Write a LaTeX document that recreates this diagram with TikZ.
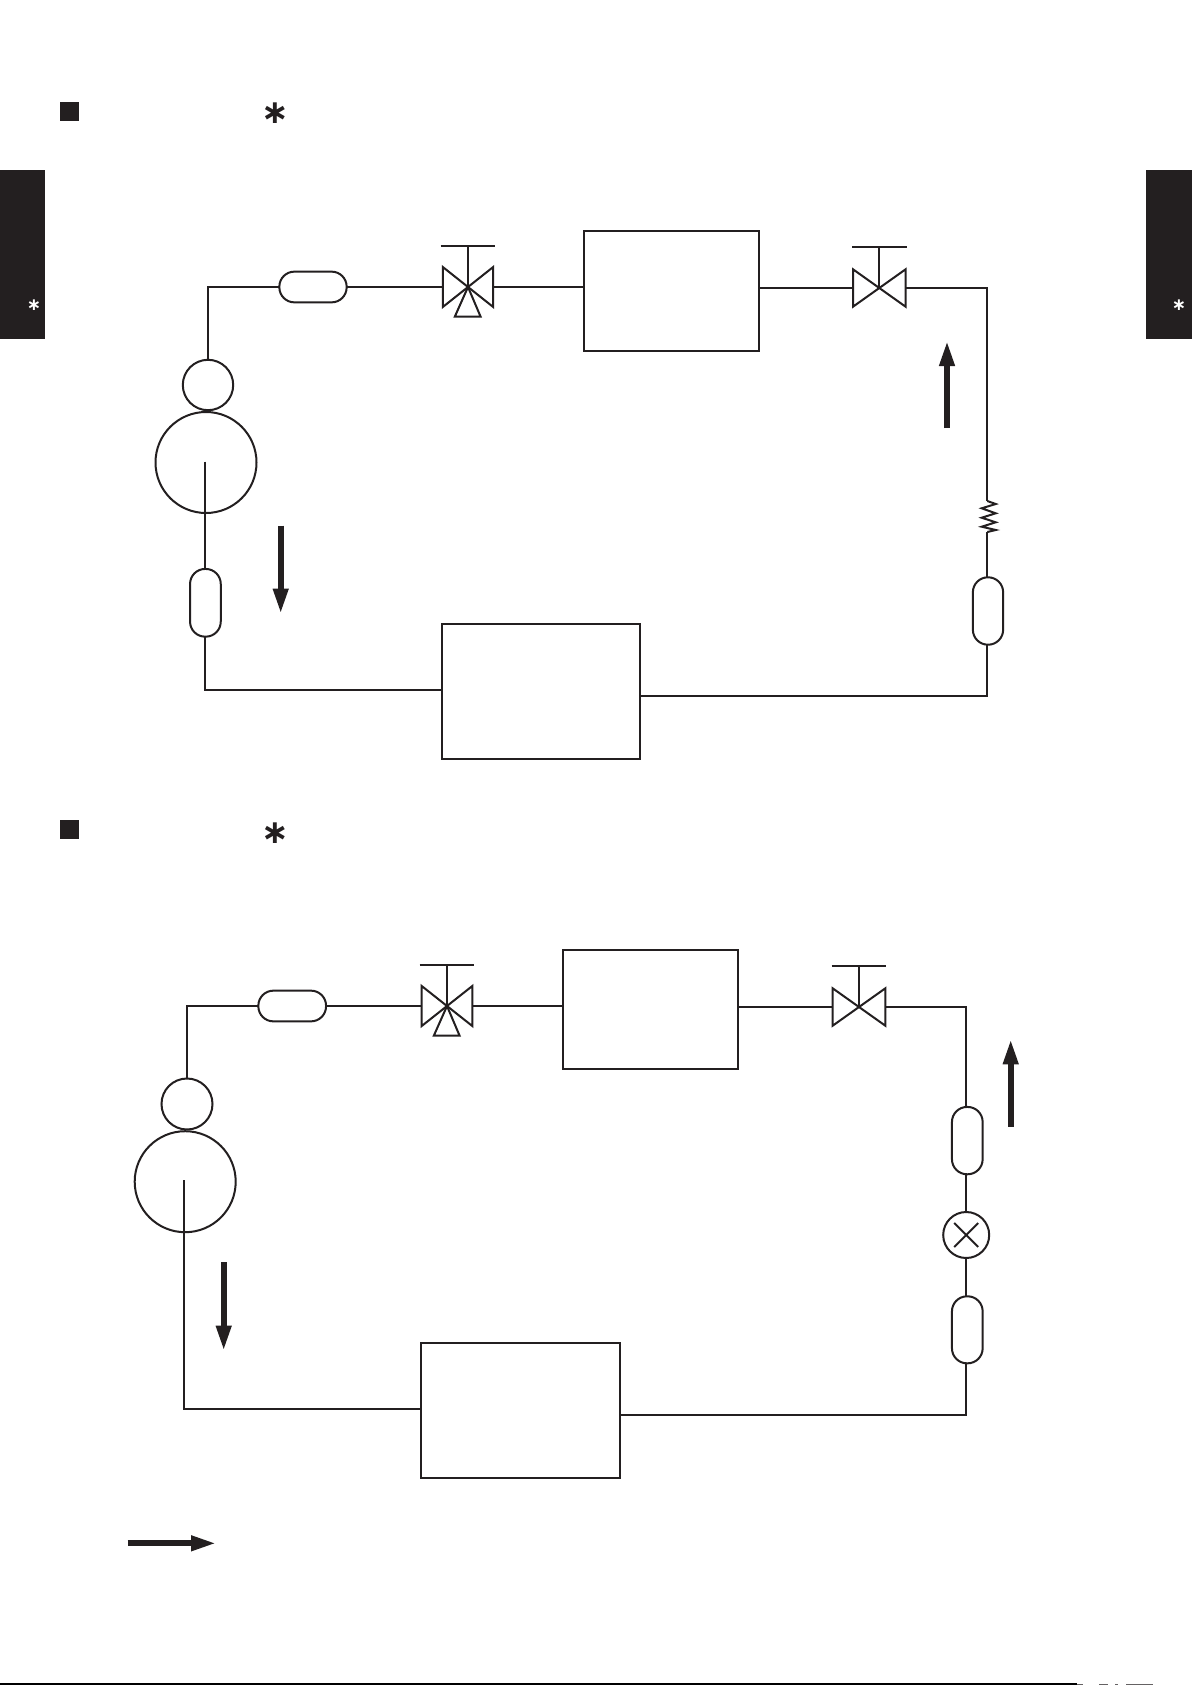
\documentclass[tikz,border=0pt]{standalone}
\usepackage{fontspec}
\newfontfamily\starfont{DejaVu Sans}[BoldFont={DejaVu Sans Bold}]
\usetikzlibrary{arrows.meta}
\definecolor{ink}{HTML}{231F20}
\tikzset{
  x=0.5pt, y=-0.5pt,
  pipe/.style={draw=ink, line width=1pt, line join=miter},
  thinpipe/.style={draw=ink, line width=0.85pt},
  unit/.style={draw=ink, line width=1pt, rectangle, inner sep=0pt, outer sep=0pt},
  pill/.style={unit, rounded corners=7.5pt},
  disc/.style={draw=ink, line width=1pt, circle, inner sep=0pt, outer sep=0pt},
  valvebody/.style={rectangle, inner sep=0pt, outer sep=0pt},
  flow/.style={draw=ink, line width=2.85pt, -{Triangle[length=12.5pt, width=7.2pt, fill=ink]}},
  mark box/.style={fill=ink, draw=none, rectangle, inner sep=0pt, outer sep=0pt},
  star big/.style={text=ink, inner sep=0pt, font=\starfont\bfseries\fontsize{16.5}{16.5}\selectfont},
  star small/.style={text=white, inner sep=0pt, font=\starfont\bfseries\fontsize{8.5}{8.5}\selectfont},
}
% #1 valve node, #2 half width, #3 half height
\newcommand{\valvesymbol}[3]{%
  \begin{scope}[shift={(#1.center)}]
    \draw[pipe] (-#2,-#3) -- (-#2,#3) -- (#2,-#3) -- (#2,#3) -- cycle;
    \draw[pipe] (0,0) -- (0,-41);
    \draw[pipe] (-27.3,-41) -- (27.3,-41);
  \end{scope}}
\newcommand{\valvelower}[1]{%
  \begin{scope}[shift={(#1.center)}]
    \draw[pipe] (0,0) -- (-13.2,29.7) -- (12.6,29.7) -- cycle;
  \end{scope}}
\begin{document}
\begin{tikzpicture}
\useasboundingbox (0,0) rectangle (1192,1685);
\fill[white] (0,0) rectangle (1192,1685);

% page furniture
\node[mark box, minimum width=9.5pt, minimum height=9.5pt] (sq1) at (69.5,111.5) {};
\node[mark box, minimum width=9.5pt, minimum height=9.5pt] (sq2) at (69.5,829.5) {};
\node[star big] (st1) at (275,113) {∗};
\node[star big] (st2) at (275,833) {∗};
\node[mark box, minimum width=22.5pt, minimum height=84.5pt] (tabl) at (22.5,254.5) {};
\node[mark box, minimum width=23pt, minimum height=84.5pt] (tabr) at (1169,254.5) {};
\node[star small] (stl) at (34,305) {∗};
\node[star small] (str) at (1179,305) {∗};

% ---------- upper circuit ----------
\node[pill, minimum width=33.65pt, minimum height=15.35pt] (p1) at (313,287) {};
\node[valvebody, minimum width=25.2pt, minimum height=20pt] (v1) at (468,287) {};
\node[unit, minimum width=87.05pt, minimum height=59.7pt] (b1) at (671.45,291) {};
\node[valvebody, minimum width=26.3pt, minimum height=18.7pt] (v2) at (879.3,288) {};
\node[disc, minimum size=25.2pt] (cs1) at (208,385) {};
\node[disc, minimum size=50.5pt] (cb1) at (206,462.5) {};
\node[pill, minimum width=15.35pt, minimum height=33.85pt] (lp1) at (205.4,602.8) {};
\node[unit, minimum width=99pt, minimum height=67.65pt] (b2) at (541,691.3) {};
\node[pill, minimum width=15.15pt, minimum height=33.7pt] (rp1) at (988,611) {};
\valvesymbol{v1}{25.2}{20}
\valvelower{v1}
\valvesymbol{v2}{26.3}{18.7}
\coordinate (m1) at (205,461.7);
\coordinate (zt) at (987.3,501);
\coordinate (zb) at (987.3,532);
\coordinate (b2e) at (640,696.3);
\coordinate (b2w) at (442,690);

\draw[pipe] (p1.west) -| (cs1.north);
\draw[pipe] (p1.east) -- (v1.west);
\draw[pipe] (v1.east) -- (v1.east -| b1.west);
\draw[pipe] (v2.west -| b1.east) -- (v2.west);
\draw[pipe] (v2.east) -| (zt);
\draw[pipe] (zt) -- (995.7,504) -- (981.7,508.3) -- (995.7,513.3) -- (981.7,517.7) -- (995.7,522.3) -- (981.7,526.7) -- (995.7,530) -- (zb);
\draw[pipe] (zb) -- (zb |- rp1.north);
\draw[pipe] (zb |- rp1.south) |- (b2e);
\draw[pipe] (lp1.south) |- (b2w);
\draw[thinpipe] (m1) -- (m1 |- lp1.north);

\coordinate (a1s) at (947,428);
\coordinate (a1e) at (947,341);
\coordinate (a2s) at (280.7,525.7);
\coordinate (a2e) at (280.7,613.6);
\draw[flow] (a1s) -- (a1e);
\draw[flow] (a2s) -- (a2e);

% ---------- lower circuit ----------
\node[pill, minimum width=33.85pt, minimum height=15.35pt] (p3) at (292.2,1006) {};
\node[valvebody, minimum width=25.3pt, minimum height=20pt] (v3) at (447,1006) {};
\node[unit, minimum width=87.15pt, minimum height=59.5pt] (b3) at (650.5,1009.5) {};
\node[valvebody, minimum width=26.4pt, minimum height=18.75pt] (v4) at (859,1007) {};
\node[disc, minimum size=25.5pt] (cs2) at (187,1104) {};
\node[disc, minimum size=50.5pt] (cb2) at (185.2,1181.7) {};
\node[unit, minimum width=99.25pt, minimum height=67.8pt] (b4) at (520.3,1410.5) {};
\node[pill, minimum width=15.35pt, minimum height=33.65pt] (pu) at (967.3,1140.6) {};
\node[disc, minimum size=23pt] (cx) at (966.2,1235) {};
\node[pill, minimum width=15.35pt, minimum height=33.5pt] (pd) at (967.3,1329.8) {};
\valvesymbol{v3}{25.3}{20}
\valvelower{v3}
\valvesymbol{v4}{26.4}{18.75}
\draw[pipe] (cx.center) ++(-12,-12) -- ++(24,24);
\draw[pipe] (cx.center) ++(12,-12) -- ++(-24,24);
\coordinate (m2) at (183.7,1180.3);
\coordinate (b4w) at (421.3,1409.3);
\coordinate (b4e) at (619.8,1415);

\draw[pipe] (p3.west) -| (cs2.north);
\draw[pipe] (p3.east) -- (v3.west);
\draw[pipe] (v3.east) -- (v3.east -| b3.west);
\draw[pipe] (v4.west -| b3.east) -- (v4.west);
\draw[pipe] (v4.east) -| (cx.north |- pu.north);
\draw[pipe] (cx.north |- pu.south) -- (cx.north);
\draw[pipe] (cx.south) -- (cx.south |- pd.north);
\draw[pipe] (cx.south |- pd.south) |- (b4e);
\draw[thinpipe] (m2) |- (b4w);

\coordinate (a3s) at (1010.7,1126.7);
\coordinate (a3e) at (1010.7,1039.3);
\coordinate (a4s) at (223.7,1262.3);
\coordinate (a4e) at (223.7,1350.6);
\coordinate (a5s) at (127.7,1543.3);
\coordinate (a5e) at (216,1543.3);
\draw[flow] (a3s) -- (a3e);
\draw[flow] (a4s) -- (a4e);
\draw[flow] (a5s) -- (a5e);

% bottom edge rule with its speckles
\fill[black] (0,1683) rectangle (1077,1685);
\fill[ink!70] (1077,1684) rectangle (1083,1685);
\fill[ink!70] (1099,1684) rectangle (1108,1685);
\fill[ink!70] (1115,1684) rectangle (1118,1685);
\fill[ink!70] (1126,1684) rectangle (1153,1685);
\end{tikzpicture}
\end{document}
